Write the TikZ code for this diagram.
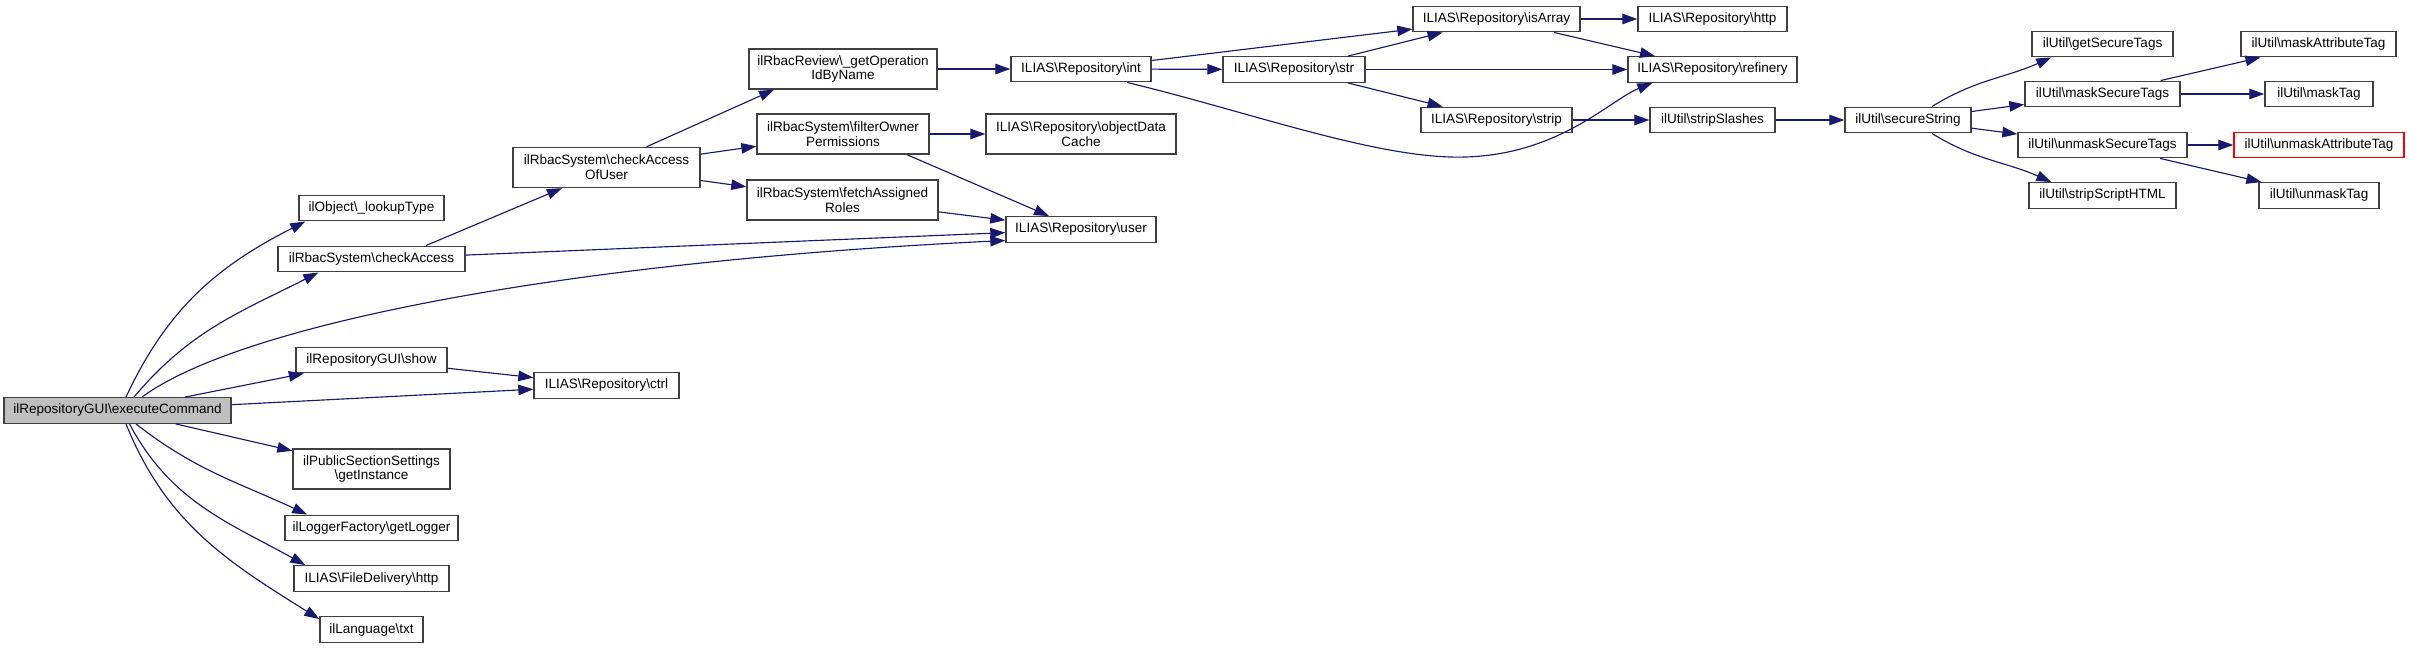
\documentclass[tikz,border=0pt]{standalone}
\usepackage{fontspec}
\setmainfont{Liberation Sans}
\usetikzlibrary{arrows.meta,calc}
\definecolor{midnight}{HTML}{191970}
\newcommand{\bsl}{\textbackslash}
\tikzset{
  fn/.style={draw=black!75, line width=0.8pt, fill=white, font=\fontsize{7.7}{8.4}\selectfont,
    align=center, inner sep=0pt, minimum height=0.51cm},
  fntwo/.style={fn, minimum height=0.8cm},
  call/.style={draw=midnight, line width=0.65pt, -{Triangle[length=0.3cm,width=0.21cm]}},
}
\begin{document}
\begin{tikzpicture}[x=0.02cm, y=0.02cm]
    \useasboundingbox (0,0) rectangle (2409,-648);
    % Caller and first rank
    \node[fn, fill=black!25, minimum width=4.54cm] (exec) at (117.5,-410.5) {ilRepositoryGUI\bsl executeCommand};
    \node[fn, minimum width=2.9cm] (lookup) at (371.5,-208) {ilObject\bsl\_lookupType};
    \node[fn, minimum width=3.74cm] (chk) at (371.5,-259) {ilRbacSystem\bsl checkAccess};
    \node[fn, minimum width=3.02cm] (show) at (371.5,-360) {ilRepositoryGUI\bsl show};
    \node[fntwo, minimum width=3.14cm] (pubsec) at (371.5,-469) {ilPublicSectionSettings\\\bsl getInstance};
    \node[fn, minimum width=3.46cm] (logger) at (371.5,-528) {ilLoggerFactory\bsl getLogger};
    \node[fn, minimum width=3.1cm] (fdhttp) at (371.5,-578.5) {ILIAS\bsl FileDelivery\bsl http};
    \node[fn, minimum width=2.06cm] (txt) at (371.5,-629.5) {ilLanguage\bsl txt};
    % Second and third rank
    \node[fntwo, minimum width=3.74cm] (chkuser) at (606.5,-167.5) {ilRbacSystem\bsl checkAccess\\OfUser};
    \node[fn, minimum width=2.9cm] (ctrl) at (606.5,-385.5) {ILIAS\bsl Repository\bsl ctrl};
    \node[fntwo, minimum width=3.76cm] (getop) at (843,-69) {ilRbacReview\bsl\_getOperation\\IdByName};
    \node[fntwo, minimum width=3.44cm] (filter) at (843,-134) {ilRbacSystem\bsl filterOwner\\Permissions};
    \node[fntwo, minimum width=3.82cm] (fetch) at (842.5,-200) {ilRbacSystem\bsl fetchAssigned\\Roles};
    % Repository calls
    \node[fn, minimum width=2.8cm] (int) at (1081,-69) {ILIAS\bsl Repository\bsl int};
    \node[fntwo, minimum width=3.8cm] (objcache) at (1081,-134) {ILIAS\bsl Repository\bsl objectData\\Cache};
    \node[fn, minimum width=3.0cm] (user) at (1081,-229.5) {ILIAS\bsl Repository\bsl user};
    \node[fn, minimum width=2.84cm] (str) at (1294,-69.5) {ILIAS\bsl Repository\bsl str};
    \node[fn, minimum width=3.34cm] (isarray) at (1496.5,-19) {ILIAS\bsl Repository\bsl isArray};
    \node[fn, minimum width=3.02cm] (strip) at (1496.5,-120) {ILIAS\bsl Repository\bsl strip};
    \node[fn, minimum width=2.98cm] (http) at (1712.5,-19) {ILIAS\bsl Repository\bsl http};
    \node[fn, minimum width=3.38cm] (refinery) at (1712.5,-69.5) {ILIAS\bsl Repository\bsl refinery};
    \node[fn, minimum width=2.5cm] (slashes) at (1712.5,-120) {ilUtil\bsl stripSlashes};
    % ilUtil calls
    \node[fn, minimum width=2.52cm] (secs) at (1908,-120) {ilUtil\bsl secureString};
    \node[fn, minimum width=2.82cm] (gst) at (2102.5,-44) {ilUtil\bsl getSecureTags};
    \node[fn, minimum width=3.1cm] (mst) at (2102.5,-94) {ilUtil\bsl maskSecureTags};
    \node[fn, minimum width=3.38cm] (ust) at (2102.5,-145) {ilUtil\bsl unmaskSecureTags};
    \node[fn, minimum width=2.94cm] (sshtml) at (2102.5,-195.5) {ilUtil\bsl stripScriptHTML};
    \node[fn, minimum width=3.1cm] (mat) at (2318.5,-44) {ilUtil\bsl maskAttributeTag};
    \node[fn, minimum width=2.16cm] (mtag) at (2319,-94) {ilUtil\bsl maskTag};
    \node[fn, draw=red, minimum width=3.4cm] (umat) at (2319,-145) {ilUtil\bsl unmaskAttributeTag};
    \node[fn, minimum width=2.4cm] (umtag) at (2319,-195.5) {ilUtil\bsl unmaskTag};
    % Calls from executeCommand
    \draw[call] ($(exec.north)+(8.5,0)$) to[out=65,in=207] ($(lookup.south west)+(7,0)$);
    \draw[call] ($(exec.north)+(16.5,0)$) to[out=50,in=207] ($(chk.south west)+(41,0)$);
    \draw[call] ($(exec.north)+(24.5,0)$) .. controls (240,-325) and (560,-262) .. ($(user.west)+(0,-11)$);
    \draw[call] (exec) -- (show);
    \draw[call] (exec) -- (ctrl);
    \draw[call] (exec) -- (pubsec);
    \draw[call] ($(exec.south)+(18.5,0)$) to[out=-38,in=155] ($(logger.north west)+(23,0)$);
    \draw[call] ($(exec.south)+(12,0)$) to[out=-62,in=151] ($(fdhttp.north west)+(12,0)$);
    \draw[call] ($(exec.south)+(8.5,0)$) to[out=-68,in=148] ($(txt.north west)+(0,-3)$);
    \draw[call] (show) -- (ctrl);
    % Rbac calls
    \draw[call] ($(chk.north)+(54.5,0)$) -- ($(chkuser.south)+(-44.5,0)$);
    \draw[call] (chk) -- (user);
    \draw[call] ($(chkuser.north)+(40,0)$) -- ($(getop.south)+(-69,0)$);
    \draw[call] (chkuser) -- (filter);
    \draw[call] (chkuser) -- (fetch);
    \draw[call] (getop) -- (int);
    \draw[call] (filter) -- (objcache);
    \draw[call] ($(filter.south)+(64,0)$) -- ($(user.north)+(-32,0)$);
    \draw[call] (fetch) -- (user);
    % Repository calls
    \draw[call] (int) -- (isarray);
    \draw[call] (int) -- (str);
    \draw[call] ($(int.south)+(46,0)$) .. controls (1250,-112) and (1380,-160) .. (1466,-157)
        .. controls (1560,-154) and (1610,-100) .. ($(refinery.south west)+(25,0)$);
    \draw[call] (str) -- (isarray);
    \draw[call] (str) -- (refinery);
    \draw[call] (str) -- (strip);
    \draw[call] (isarray) -- (http);
    \draw[call] (isarray) -- (refinery);
    \draw[call] (strip) -- (slashes);
    \draw[call] (slashes) -- (secs);
    % ilUtil calls
    \draw[call] ($(secs.north)+(24,0)$) to[out=32,in=204] ($(gst.south west)+(20,0)$);
    \draw[call] (secs) -- (mst);
    \draw[call] (secs) -- (ust);
    \draw[call] ($(secs.south)+(24,0)$) to[out=-32,in=156] ($(sshtml.north west)+(23,0)$);
    \draw[call] (mst) -- (mat);
    \draw[call] (mst) -- (mtag);
    \draw[call] (ust) -- (umat);
    \draw[call] (ust) -- (umtag);
\end{tikzpicture}
\end{document}
